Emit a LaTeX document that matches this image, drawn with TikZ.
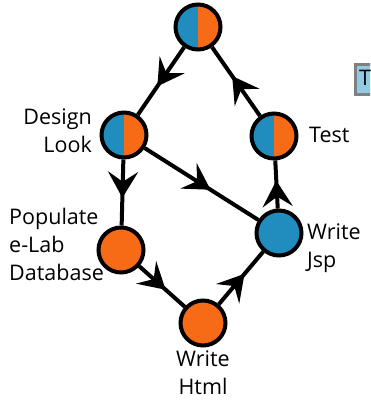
\documentclass[tikz,border=0pt]{standalone}
\usepackage{fontspec}
\setmainfont{Open Sans}
\usetikzlibrary{arrows.meta,decorations.markings}
\definecolor{stepBlue}{RGB}{33,140,190}
\definecolor{stepOrange}{RGB}{247,106,22}
\definecolor{tabBlue}{RGB}{144,203,230}
\definecolor{tabGray}{RGB}{128,128,128}
\tikzset{
  stepnode/.style={circle,draw=black,line width=4pt,minimum size=45pt,inner sep=0pt},
  orangenode/.style={stepnode,fill=stepOrange},
  bluenode/.style={stepnode,fill=stepBlue},
  halfnode/.style={stepnode,fill=stepOrange,path picture={\fill[stepBlue] (path picture bounding box.south west) rectangle (path picture bounding box.north);}},
  steplabel/.style={font=\fontsize{21.5}{28}\selectfont,inner sep=0pt},
  flow/.style={line width=4pt,postaction={decorate},decoration={markings,mark=at position 0.58 with {\arrow{Stealth[length=26pt,width=30pt,inset=10pt]}}}}
}
\begin{document}
\begin{tikzpicture}[x=1pt,y=-1pt]
\useasboundingbox (0,0) rectangle (370,404);
\clip (0,0) rectangle (370,404);

% tab cut off at the right edge
\node[draw=tabGray,fill=tabBlue,line width=3pt,minimum width=40pt,minimum height=29pt,anchor=north west,inner sep=0pt] (tab) at (353.5,63.5) {};
\node[steplabel,anchor=west] (tabtext) at (359,78) {T};

\node[halfnode] (top) at (198,27) {};
\node[halfnode] (design) at (124,135) {};
\node[halfnode] (test) at (274,136) {};
\node[orangenode] (populate) at (121,250) {};
\node[orangenode] (html) at (203,323) {};
\node[bluenode] (jsp) at (279,233) {};

\node[steplabel,align=right,anchor=east] (designtext) at (92,131) {Design\\Look};
\node[steplabel,align=left,anchor=west] (testtext) at (309,135) {Test};
\node[steplabel,align=left,anchor=west] (populatetext) at (9,244) {Populate\\e-Lab\\Database};
\node[steplabel,align=left,anchor=west] (jsptext) at (307,248) {Write\\Jsp};
\node[steplabel,align=center,anchor=north] (htmltext) at (203,351) {Write\\Html};

\draw[flow] (top) -- (design);
\draw[flow] (design) -- (populate);
\draw[flow] (design) -- (jsp);
\draw[flow] (populate) -- (html);
\draw[flow] (html) -- (jsp);
\draw[flow] (jsp) -- (test);
\draw[flow] (test) -- (top);
\end{tikzpicture}
\end{document}
